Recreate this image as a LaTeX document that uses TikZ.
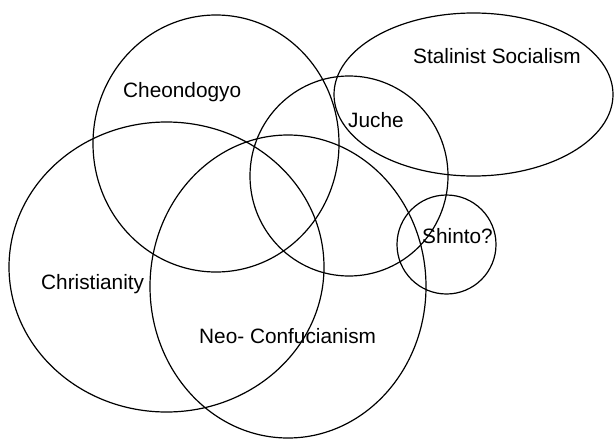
\documentclass[tikz,border=0pt]{standalone}
\usepackage{fontspec}
\setmainfont{Liberation Sans}
\begin{document}
\begin{tikzpicture}[x=1pt,y=-1pt,
  ring/.style={draw=black,line width=1.2pt},
  lab/.style={anchor=base west,inner sep=0pt,font=\fontsize{20.8}{24}\selectfont}]
\useasboundingbox[fill=white] (0,0) rectangle (615,439);
% sets
\draw[ring] (216,143.5) ellipse [x radius=123pt,y radius=128.5pt];
\draw[ring] (349,176) ellipse [x radius=99pt,y radius=100pt];
\draw[ring] (473.5,94.5) ellipse [x radius=139.5pt,y radius=81.5pt];
\draw[ring] (166.5,267) ellipse [x radius=157.5pt,y radius=145pt];
\draw[ring] (288,286.5) ellipse [x radius=138pt,y radius=151.5pt];
\draw[ring] (446.5,244.5) ellipse [x radius=49.5pt,y radius=49.5pt];
% labels
\node[lab] (cheo) at (123,97.3) {Cheondogyo};
\node[lab] (stal) at (413,63) {Stalinist Socialism};
\node[lab] (juche) at (348,127) {Juche};
\node[lab] (chri) at (41,289) {Christianity};
\node[lab] (neo) at (199,343.5) {Neo- Confucianism};
\node[lab] (shin) at (422,243) {Shinto?};
\end{tikzpicture}
\end{document}
